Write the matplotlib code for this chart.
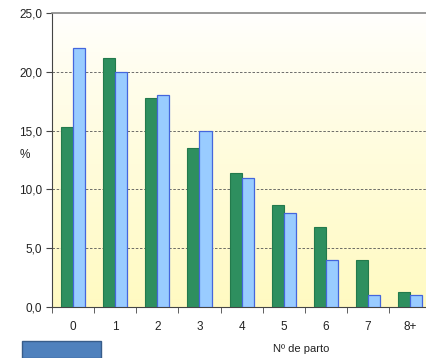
import numpy as np
import matplotlib.pyplot as plt
from matplotlib.patches import Rectangle

categorias = ['0', '1', '2', '3', '4', '5', '6', '7', '8+']
serie_verde = [15.3, 21.2, 17.8, 13.5, 11.4, 8.7, 6.8, 4.0, 1.3]
serie_azul = [22.0, 20.0, 18.0, 15.0, 11.0, 8.0, 4.0, 1.0, 1.0]
y_ticks = [0, 5, 10, 15, 20, 25]

plt.rcParams['font.family'] = ['Liberation Sans', 'DejaVu Sans']

fig = plt.figure(figsize=(4.27, 3.58), dpi=100, facecolor='white')
ax = fig.add_axes([52/427, 1 - 307/358, 1 - 52/427, (307 - 13)/358])

x = np.arange(len(categorias))
w = 0.286

# fundo em degradê branco -> amarelo claro
grad = np.linspace(0, 1, 256).reshape(-1, 1) ** 0.8
top = np.array([1.0, 1.0, 1.0])
bot = np.array([1.0, 0.98, 0.76])
cols = top[None, :] * (1 - grad) + bot[None, :] * grad
ax.imshow(cols[:, None, :], extent=[-0.5, 8.4, 0, 25], aspect='auto', zorder=0, origin='upper')

ax.bar(x - w/2, serie_verde, w, color='#2e8f5f', edgecolor='#237a4c', linewidth=0.8, zorder=3)
ax.bar(x + w/2, serie_azul, w, color='#99ccff', edgecolor='#4466dd', linewidth=0.9, zorder=3)

ax.set_xlim(-0.5, 8.4)
ax.set_ylim(0, 25)
ax.set_yticks(y_ticks)
ax.set_yticklabels([f"{v:.1f}".replace('.', ',') for v in y_ticks], fontsize=8.5, color='#222222')
ax.set_xticks(x)
ax.set_xticklabels(categorias, fontsize=8.5, color='#222222')
ax.set_xticks(np.arange(-0.5, 8.5, 1), minor=True)
ax.tick_params(axis='x', which='major', length=0, pad=10)
ax.tick_params(axis='x', which='minor', length=4, color='#444444')
ax.tick_params(axis='y', length=4, color='#444444', pad=3)

for v in y_ticks[1:-1]:
    ax.axhline(v, color='#555555', linestyle=(0, (3, 2)), linewidth=0.6, zorder=1)

ax.spines['top'].set_color('#888888')
ax.spines['top'].set_linewidth(1.2)
ax.spines['left'].set_color('#444444')
ax.spines['bottom'].set_color('#444444')
ax.spines['right'].set_visible(False)

fig.text(20/427, 1 - 155/358, '%', fontsize=8.5, color='#222222', va='center')
fig.text(273/427, 1 - 349/358, 'Nº de parto', fontsize=8, color='#222222', va='center')

fig.patches.append(Rectangle((22/427, 0), 79/427, 17/358, transform=fig.transFigure,
                             facecolor='#4f81bd', edgecolor='#385d8a', linewidth=1))

fig.savefig('out.png', dpi=100)
